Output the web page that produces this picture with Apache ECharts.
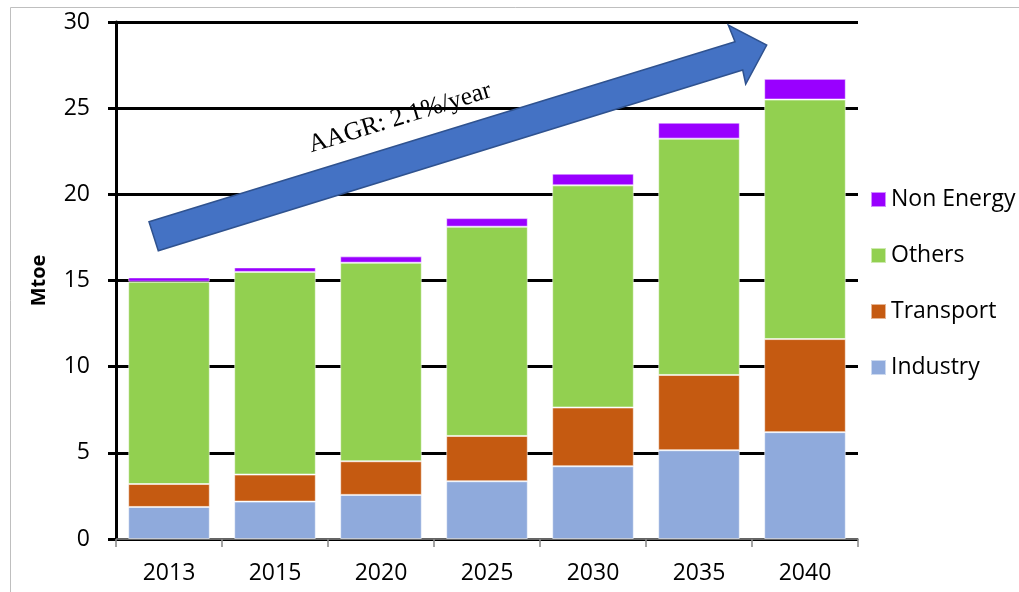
<!DOCTYPE html>
<html>
<head>
<meta charset="utf-8">
<script src="https://cdn.jsdelivr.net/npm/echarts@6/dist/echarts.min.js"></script>
<style>
html,body{margin:0;padding:0;background:#fff;}
#chart{width:1019px;height:592px;}
</style>
</head>
<body>
<div id="chart"></div>
<script>
const categories = ['2013','2015','2020','2025','2030','2035','2040'];
const industry   = [1.86, 2.17, 2.56, 3.35, 4.22, 5.15, 6.20];
const transport  = [1.33, 1.57, 1.95, 2.63, 3.41, 4.37, 5.40];
const others     = [11.74, 11.76, 11.52, 12.14, 12.89, 13.71, 13.90];
const nonEnergy  = [0.25, 0.26, 0.37, 0.50, 0.68, 0.93, 1.20];
const yTicks = [0, 5, 10, 15, 20, 25, 30];
const annotationText = 'AAGR: 2.1%/year';

const FONT = '"Open Sans", sans-serif';
const chart = echarts.init(document.getElementById('chart'), null, {renderer: 'canvas'});

function barSeries(name, data, color) {
  return {
    name: name, type: 'bar', stack: 'total', data: data,
    barCategoryGap: '23%',
    itemStyle: {color: color, borderColor: 'rgba(255,255,255,0.55)', borderWidth: 1},
    emphasis: {disabled: true}
  };
}

chart.setOption({
  animation: false,
  backgroundColor: '#fff',
  grid: {left: 116, right: 161, top: 22, bottom: 53},
  legend: {
    orient: 'vertical', left: 865, top: 183,
    itemWidth: 15, itemHeight: 15, itemGap: 33,
    icon: 'rect',
    data: ['Non Energy', 'Others', 'Transport', 'Industry'],
    textStyle: {fontFamily: FONT, fontSize: 23, color: '#000', lineHeight: 23}
  },
  xAxis: {
    type: 'category', data: categories,
    axisLine: {lineStyle: {color: '#868686', width: 1.5}},
    axisTick: {show: true, length: 8, lineStyle: {color: '#868686', width: 1.5}},
    axisLabel: {fontFamily: FONT, fontSize: 23, color: '#000', margin: 23}
  },
  yAxis: {
    type: 'value', min: yTicks[0], max: yTicks[yTicks.length - 1], interval: 5,
    name: 'Mtoe', nameLocation: 'middle', nameRotate: 90, nameGap: 67,
    nameTextStyle: {fontFamily: FONT, fontSize: 20, fontWeight: 'bold', color: '#000'},
    axisLine: {show: true, lineStyle: {color: '#000', width: 3}},
    axisTick: {show: true, length: 8, lineStyle: {color: '#000', width: 3}},
    axisLabel: {fontFamily: FONT, fontSize: 23, color: '#000', margin: 26},
    splitLine: {show: true, lineStyle: {color: '#000', width: 3}}
  },
  series: [
    barSeries('Industry', industry, '#8FAADC'),
    barSeries('Transport', transport, '#C55A11'),
    barSeries('Others', others, '#92D050'),
    barSeries('Non Energy', nonEnergy, '#9900FF')
  ],
  graphic: [
    {type: 'rect', left: 8, top: 5, z: -10, silent: true,
     shape: {x: 0, y: 0, width: 1030, height: 620},
     style: {fill: 'none', stroke: '#BFBFBF', lineWidth: 1}},
    {type: 'polygon', z: 100, silent: true,
     shape: {points: [[149,221.7],[735,41.7],[728.3,25],[766.7,45],[745.7,84],[742.7,70],[158.3,250.7]]},
     style: {fill: '#4472C4', stroke: '#2F528F', lineWidth: 1.5}},
    {type: 'text', z: 101, silent: true, x: 400, y: 118, rotation: 0.2985,
     style: {text: annotationText, font: '25.5px "Liberation Serif", "Times New Roman", serif',
             fill: '#000', textAlign: 'center', textVerticalAlign: 'middle'}}
  ]
});
</script>
</body>
</html>
